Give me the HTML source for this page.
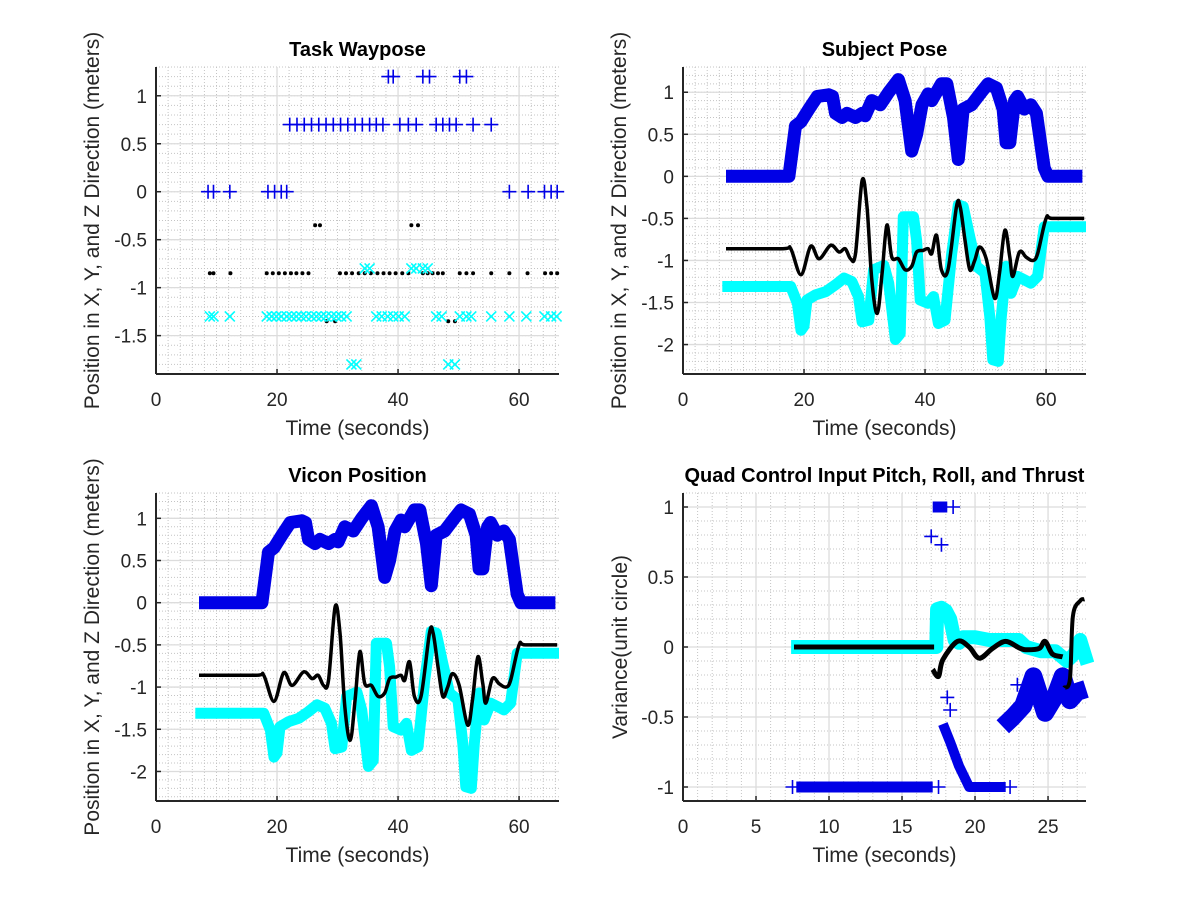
<!DOCTYPE html>
<html><head><meta charset="utf-8"><style>
html,body{margin:0;padding:0;background:#fff;}
svg{display:block;font-family:"Liberation Sans",Arial,sans-serif;}
</style></head><body>
<svg id="fig" width="1200" height="900" viewBox="0 0 1200 900" xmlns="http://www.w3.org/2000/svg">
<rect width="1200" height="900" fill="#fff"/>
</svg>
<script>
// ---------- Data ----------
const wpPlusHighT = [38.4,39.2,44.1,45.2,50.2,51.3];
const wpPlusMidT  = [22.1,23.3,24.5,25.7,26.9,28.1,29.3,30.5,31.7,32.9,34.1,35.3,36.4,37.5,40.3,41.7,43.0,46.3,47.4,48.5,49.6,52.4,55.4];
const wpPlusZeroT = [8.6,9.5,12.2,18.5,19.6,20.7,21.6,58.4,61.5,64.2,65.3,66.3];
const wpDotHighT  = [26.3,27.1,42.2,43.3];
const wpDotMidT   = [8.9,9.5,12.3,18.3,19.3,20.3,21.3,22.3,23.2,24.2,25.2,30.4,31.4,32.4,33.5,34.5,35.5,36.6,37.6,38.6,39.6,40.7,41.7,44.1,44.9,45.7,46.6,47.4,50.2,51.3,52.4,55.4,58.4,61.4,64.3,65.3,66.3];
const wpDotLowT   = [28.2,29.6,48.3,49.4];
const wpXHighT    = [34.5,35.3,42.2,43.0,44.1,44.9];
const wpXMidT     = [8.9,9.5,12.2,18.3,19.1,19.9,20.7,21.6,22.4,23.2,24.0,24.8,25.7,26.5,27.3,28.1,29.0,29.8,30.6,31.5,36.4,37.3,38.3,39.2,40.1,41.1,46.3,47.2,50.2,51.3,52.1,55.4,58.4,61.2,64.2,65.3,66.2];
const wpXLowT     = [32.3,33.1,48.3,49.4];
const wpLevels = [1.2,0.7,0,-0.35,-0.85,-1.35,-0.8,-1.3,-1.8];

const poseBlueT = [7.1,17.5,18.6,19.5,20.8,22.2,24.1,24.7,25.2,26.3,27.1,28.5,29.6,30.1,31.2,32.6,34.0,35.6,36.7,37.8,38.6,39.5,40.5,41.1,42.7,43.6,44.7,45.5,46.3,47.7,49.3,50.4,51.8,52.9,53.4,54.0,54.8,55.3,56.4,57.5,58.4,59.7,60.3,66.0];
const poseBlueV = [0,0,0.6,0.65,0.8,0.95,0.97,0.95,0.75,0.7,0.75,0.7,0.75,0.72,0.9,0.85,1.0,1.15,0.9,0.3,0.5,0.85,0.98,0.9,1.1,1.1,0.7,0.2,0.8,0.85,1.0,1.1,1.05,0.8,0.4,0.4,0.9,0.95,0.8,0.85,0.75,0.1,0,0];
const poseBlackT = [7.1,16.5,17.8,19.5,21.1,22.5,24.4,25.8,26.8,27.7,28.5,29.6,30.4,31.2,32.1,32.9,33.7,34.5,35.6,36.7,37.8,38.6,39.7,40.5,41.1,41.9,42.7,43.8,45.2,45.8,46.6,47.4,48.2,49.0,50.1,51.5,52.3,53.2,54.0,54.5,55.6,56.7,57.8,58.6,60.0,61.0,66.3];
const poseBlackV = [-0.86,-0.86,-0.86,-1.17,-0.83,-0.98,-0.82,-0.9,-0.86,-0.98,-0.92,-0.05,-0.36,-1.23,-1.63,-1.15,-0.58,-0.96,-0.98,-1.11,-1.07,-0.9,-0.88,-0.86,-0.92,-0.7,-1.11,-1.11,-0.36,-0.36,-0.76,-1.11,-1.0,-0.84,-0.98,-1.45,-1.15,-0.64,-0.96,-1.19,-0.9,-0.96,-1.0,-0.92,-0.5,-0.5,-0.5];
const poseCyanT = [6.5,17.8,18.9,19.5,20.0,20.5,21.9,23.6,25.2,26.6,27.9,29.0,29.6,30.7,31.5,33.2,34.0,35.1,35.9,36.4,38.1,38.6,39.2,40.5,41.4,42.2,43.3,44.4,45.5,46.3,47.4,48.5,49.9,50.7,51.2,52.1,52.6,53.4,54.2,55.3,56.4,57.5,58.6,59.7,66.6];
const poseCyanV = [-1.31,-1.31,-1.51,-1.83,-1.78,-1.47,-1.41,-1.37,-1.29,-1.21,-1.25,-1.43,-1.73,-1.71,-1.11,-1.06,-1.27,-1.94,-1.87,-0.48,-0.48,-0.76,-1.47,-1.51,-1.43,-1.75,-1.71,-0.92,-0.34,-0.36,-0.72,-1.07,-1.15,-1.67,-2.18,-2.2,-1.67,-1.07,-1.39,-1.19,-1.23,-1.27,-1.19,-0.6,-0.6];

const quadBlueLowT = [7.76,17.1];      const quadBlueLowV = [-1,-1];
const quadBlueTopT = [17.1,18.1];      const quadBlueTopV = [1,1];
const quadBlueFallT = [17.8,18.3,18.9,19.6,22.1]; const quadBlueFallV = [-0.55,-0.68,-0.85,-1.0,-1.0];
const quadBlueRiseT = [21.9,22.6,23.3,24.0,24.8,25.5,26.0,26.5,27.0,27.6]; const quadBlueRiseV = [-0.57,-0.5,-0.42,-0.21,-0.47,-0.35,-0.21,-0.38,-0.32,-0.30];
const quadBluePlusT = [7.5,17.5,17.0,17.7,18.1,18.3,22.9,18.5,22.4]; const quadBluePlusV = [-1,-1,0.79,0.73,-0.36,-0.45,-0.27,1,-1];
const quadCyanT = [7.4,17.35,17.4,17.7,18.0,18.3,18.6,18.9,19.2,20.0,21.0,22.0,23.0,23.5,24.5,25.5,26.3,26.8,27.2,27.5,27.7];
const quadCyanV = [0,0,0.27,0.28,0.26,0.2,0.05,0.03,0.07,0.07,0.05,0.05,0.05,0.0,-0.03,-0.03,-0.1,-0.05,0.05,-0.05,-0.12];
const quadBlackAT = [7.6,17.2];        const quadBlackAV = [0,0];
const quadBlackBT = [17.1,17.5,17.8,18.8,19.6,20.3,21.2,22.1,23.1,23.6,24.4,24.8,25.3,26.0];
const quadBlackBV = [-0.16,-0.21,-0.09,0.04,0.0,-0.08,-0.01,0.04,-0.01,-0.02,-0.01,0.04,-0.05,-0.07];
const quadBlackCT = [26.1,26.5,26.7,27.2,27.5];
const quadBlackCV = [-0.29,-0.23,0.22,0.33,0.34];

const timeTicks60 = [0,20,40,60];
const wpYTicks = [-1.5,-1,-0.5,0,0.5,1];
const poseYTicks = [-2,-1.5,-1,-0.5,0,0.5,1];
const quadXTicks = [0,5,10,15,20,25];
const quadYTicks = [-1,-0.5,0,0.5,1];

// ---------- Drawing ----------
const NS = "http://www.w3.org/2000/svg";
const fig = document.getElementById('fig');
function mk(tag, attrs, parent){
  const e = document.createElementNS(NS, tag);
  for (const k in attrs) e.setAttribute(k, attrs[k]);
  (parent||fig).appendChild(e); return e;
}
function fmt(v){ return (Math.round(v*10)/10).toString(); }

function axes(name, box, xlim, ylim, xticks, yticks, xminor, yminor, title, ylabel, ylabelX){
  const g = mk('g', {});
  
  
  const sx = v => box.x + (v - xlim[0]) / (xlim[1]-xlim[0]) * box.w;
  const sy = v => box.y + box.h - (v - ylim[0]) / (ylim[1]-ylim[0]) * box.h;
  const grid = mk('g', {}, g);
  
  
  for (let v = Math.ceil(xlim[0]/xminor)*xminor; v <= xlim[1]+1e-9; v += xminor){
    mk('line',{x1:sx(v),x2:sx(v),y1:box.y,y2:box.y+box.h,stroke:'#c4c4c4','stroke-width':1,'stroke-dasharray':'1,2'},grid);
  }
  for (let v = Math.ceil(ylim[0]/yminor)*yminor; v <= ylim[1]+1e-9; v += yminor){
    mk('line',{x1:box.x,x2:box.x+box.w,y1:sy(v),y2:sy(v),stroke:'#c4c4c4','stroke-width':1,'stroke-dasharray':'1,2'},grid);
  }
  xticks.forEach(v=>{ mk('line',{x1:sx(v),x2:sx(v),y1:box.y,y2:box.y+box.h,stroke:'#dcdcdc','stroke-width':1.3},grid); });
  yticks.forEach(v=>{ mk('line',{x1:box.x,x2:box.x+box.w,y1:sy(v),y2:sy(v),stroke:'#dcdcdc','stroke-width':1.3},grid); });
  const xa = mk('line',{x1:box.x,x2:box.x+box.w,y1:box.y+box.h,y2:box.y+box.h,stroke:'#262626','stroke-width':2},g);
  
  
  const ya = mk('line',{x1:box.x,x2:box.x,y1:box.y,y2:box.y+box.h,stroke:'#262626','stroke-width':2},g);
  
  
  xticks.forEach(v=>{
    mk('line',{x1:sx(v),x2:sx(v),y1:box.y+box.h,y2:box.y+box.h-5,stroke:'#262626','stroke-width':1.5},g);
    const t = mk('text',{x:sx(v),y:box.y+box.h+32,'text-anchor':'middle','font-size':19,fill:'#262626'},g);
    
    
    t.textContent = fmt(v);
  });
  yticks.forEach(v=>{
    mk('line',{x1:box.x,x2:box.x+5,y1:sy(v),y2:sy(v),stroke:'#262626','stroke-width':1.5},g);
    const t = mk('text',{x:box.x-9,y:sy(v)+7,'text-anchor':'end','font-size':19,fill:'#262626'},g);
    
    
    t.textContent = fmt(v);
  });
  const tt = mk('text',{x:box.x+box.w/2,y:box.y-11,'text-anchor':'middle','font-size':20,'font-weight':'bold',fill:'#000'},g);
  
  
  tt.textContent = title;
  const xl = mk('text',{x:box.x+box.w/2,y:box.y+box.h+61,'text-anchor':'middle','font-size':21,fill:'#262626'},g);
  
  
  xl.textContent = 'Time (seconds)';
  const cy = box.y+box.h/2;
  const yl = mk('text',{x:ylabelX,y:cy,'text-anchor':'middle','font-size':21,fill:'#262626',transform:`rotate(-90 ${ylabelX} ${cy})`},g);
  
  
  yl.textContent = ylabel;
  const clip = 'clip-' + name;
  const cp = mk('clipPath',{id:clip},g);
  mk('rect',{x:box.x-8,y:box.y-8,width:box.w+16,height:box.h+16},cp);
  const plot = mk('g',{'clip-path':`url(#${clip})`},g);
  return {sx, sy, g:plot};
}
function line(ax, T, V, color, w, nm, smooth){
  const P = T.map((t,i)=>[ax.sx(t), ax.sy(V[i])]);
  let d = 'M'+P[0][0].toFixed(1)+','+P[0][1].toFixed(1);
  for (let i=1;i<P.length;i++){
    if (smooth){
      const p0=P[Math.max(0,i-2)], p1=P[i-1], p2=P[i], p3=P[Math.min(P.length-1,i+1)];
      const c1=[p1[0]+(p2[0]-p0[0])/6, p1[1]+(p2[1]-p0[1])/6];
      const c2=[p2[0]-(p3[0]-p1[0])/6, p2[1]-(p3[1]-p1[1])/6];
      d += `C${c1[0].toFixed(1)},${c1[1].toFixed(1)} ${c2[0].toFixed(1)},${c2[1].toFixed(1)} ${p2[0].toFixed(1)},${p2[1].toFixed(1)}`;
    } else d += 'L'+P[i][0].toFixed(1)+','+P[i][1].toFixed(1);
  }
  const p = mk('path',{d:d,fill:'none',stroke:color,'stroke-width':w,'stroke-linejoin':'round','stroke-linecap':'butt'},ax.g);
  
  
  return p;
}
function markers(ax, T, yv, kind, color, nm, Vs){
  const g = mk('g',{},ax.g);
  
  
  T.forEach((t,i)=>{
    const x = ax.sx(t), y = ax.sy(Vs ? Vs[i] : yv);
    if (kind==='+'){
      mk('path',{d:`M${x-7},${y}H${x+7}M${x},${y-7}V${y+7}`,stroke:color,'stroke-width':1.6,fill:'none'},g);
    } else if (kind==='x'){
      mk('path',{d:`M${x-5},${y-5}L${x+5},${y+5}M${x-5},${y+5}L${x+5},${y-5}`,stroke:color,'stroke-width':1.6,fill:'none'},g);
    } else {
      mk('circle',{cx:x,cy:y,r:2,fill:color},g);
    }
  });
}

const BLUE='#0000e6', CYAN='#00ffff', BLK='#000';

const a1 = axes('task-waypose', {x:156,y:67,w:403,h:307}, [0,66.6], [-1.9,1.3], timeTicks60, wpYTicks, 2, 0.1, 'Task Waypose', 'Position in X, Y, and Z Direction (meters)', 99);
markers(a1, wpPlusHighT, wpLevels[0], '+', BLUE, 'waypose-plus-high');
markers(a1, wpPlusMidT, wpLevels[1], '+', BLUE, 'waypose-plus-mid');
markers(a1, wpPlusZeroT, wpLevels[2], '+', BLUE, 'waypose-plus-zero');
markers(a1, wpDotHighT, wpLevels[3], '.', BLK, 'waypose-dot-high');
markers(a1, wpDotMidT, wpLevels[4], '.', BLK, 'waypose-dot-mid');
markers(a1, wpDotLowT, wpLevels[5], '.', BLK, 'waypose-dot-low');
markers(a1, wpXHighT, wpLevels[6], 'x', CYAN, 'waypose-x-high');
markers(a1, wpXMidT, wpLevels[7], 'x', CYAN, 'waypose-x-mid');
markers(a1, wpXLowT, wpLevels[8], 'x', CYAN, 'waypose-x-low');

const a2 = axes('subject-pose', {x:683,y:67,w:403,h:307}, [0,66.6], [-2.35,1.3], timeTicks60, poseYTicks, 2, 0.1, 'Subject Pose', 'Position in X, Y, and Z Direction (meters)', 626);
line(a2, poseBlueT, poseBlueV, BLUE, 13, 'subject-x-series');
line(a2, poseCyanT, poseCyanV, CYAN, 11, 'subject-z-series');
line(a2, poseBlackT, poseBlackV, BLK, 3.5, 'subject-y-series', true);

const a3 = axes('vicon-position', {x:156,y:493,w:403,h:308}, [0,66.6], [-2.35,1.3], timeTicks60, poseYTicks, 2, 0.1, 'Vicon Position', 'Position in X, Y, and Z Direction (meters)', 99);
line(a3, poseBlueT, poseBlueV, BLUE, 13, 'vicon-x-series');
line(a3, poseCyanT, poseCyanV, CYAN, 11, 'vicon-z-series');
line(a3, poseBlackT, poseBlackV, BLK, 3.5, 'vicon-y-series', true);

const a4 = axes('quad-control', {x:683,y:493,w:403,h:308}, [0,27.6], [-1.1,1.1], quadXTicks, quadYTicks, 1, 0.1, 'Quad Control Input Pitch, Roll, and Thrust', 'Variance(unit circle)', 627);
line(a4, quadBlueLowT, quadBlueLowV, BLUE, 11, 'quad-pitch-low');
line(a4, quadBlueTopT, quadBlueTopV, BLUE, 11, 'quad-pitch-top');
line(a4, quadBlueFallT, quadBlueFallV, BLUE, 10, 'quad-pitch-fall');
line(a4, quadBlueRiseT, quadBlueRiseV, BLUE, 18, 'quad-pitch-rise');
markers(a4, quadBluePlusT, 0, '+', BLUE, 'quad-pitch-markers', quadBluePlusV);
line(a4, quadCyanT, quadCyanV, CYAN, 14, 'quad-roll-series');
line(a4, quadBlackAT, quadBlackAV, BLK, 5, 'quad-thrust-flat');
line(a4, quadBlackBT, quadBlackBV, BLK, 5, 'quad-thrust-wave', true);
line(a4, quadBlackCT, quadBlackCV, BLK, 4, 'quad-thrust-rise', true);
</script>
</body></html>
